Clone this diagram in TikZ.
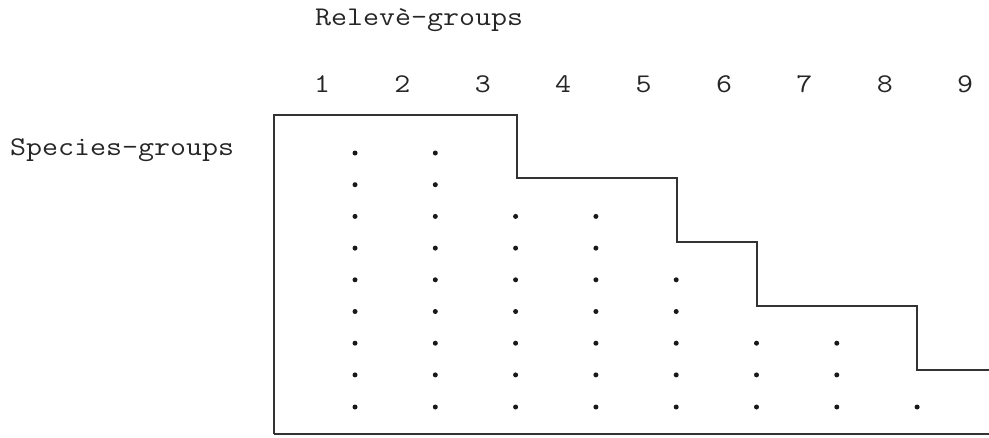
\documentclass[tikz,border=0pt]{standalone}
\usepackage{fontspec}
\setmonofont[FakeStretch=1.15]{Latin Modern Mono}
\begin{document}
\begin{tikzpicture}[x=1pt,y=-1pt,
  lbl/.style={inner sep=0pt,anchor=base,font=\ttfamily\fontsize{27}{30}\selectfont,text=black!85},
  edge/.style={line width=1.4pt,draw=black!80,line join=miter},
  spot/.style={fill=black!90,draw=none}]
\useasboundingbox (0,0) rectangle (989,437);
% axis titles
\node[lbl,anchor=base west] (rel) at (315,25) {Relevè-groups};
\node[lbl,anchor=base west] (spec) at (10,155) {Species-groups};
% column numbers of the relevè-groups
\foreach \i in {1,...,9}
  \node[lbl] (col\i) at ({322+80.4*(\i-1)},92) {\i};
% outline of the staircase table
\coordinate (bl) at (274,434);
\coordinate (br) at (989,434);
\draw[edge] (bl) -- (274,115) -- (517,115) -- (517,178) -- (677,178)
  -- (677,242) -- (757,242) -- (757,306) -- (917,306) -- (917,370) -- (989,370);
\draw[edge] (bl) -- (br);
% dots: row number / number of filled columns
\foreach \r/\n in {1/2,2/2,3/4,4/4,5/5,6/5,7/7,8/7}
  \foreach \c in {1,...,\n}
    \fill[spot] ({355+80.3*(\c-1)},{153+31.7*(\r-1)}) circle (2.5);
% last row: all columns
\foreach \c in {1,...,8}
  \fill[spot] ({355+80.3*(\c-1)},407) circle (2.5);
\end{tikzpicture}
\end{document}
